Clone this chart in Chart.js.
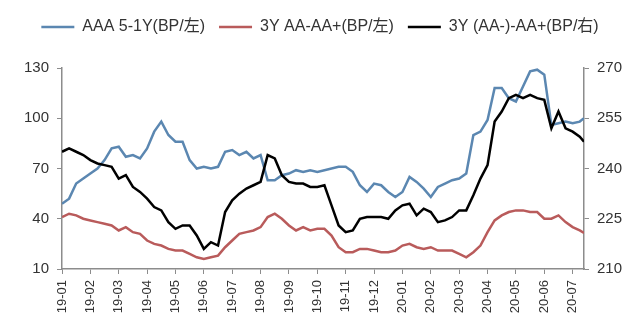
<!DOCTYPE html>
<html>
<head>
<meta charset="utf-8">
<script src="https://cdn.jsdelivr.net/npm/chart.js@4/dist/chart.umd.min.js"></script>
<style>
    html, body { margin: 0; padding: 0; background: #fff; }
    #wrap { width: 640px; height: 335px; }
</style>
</head>
<body>
<div id="wrap"><canvas id="spreadChart"></canvas></div>
<script>
// Month labels on the x axis, one per month start
const monthLabels = ['19-01', '19-02', '19-03', '19-04', '19-05', '19-06', '19-07', '19-08', '19-09', '19-10',
    '19-11', '19-12', '20-01', '20-02', '20-03', '20-04', '20-05', '20-06', '20-07'];

// Sample positions in months since 2019-01 (quarter-month steps)
const samplePos = [0, 0.25, 0.5, 0.75, 1, 1.25, 1.5, 1.75, 2, 2.25, 2.5, 2.75, 3, 3.25, 3.5, 3.75,
    4, 4.25, 4.5, 4.75, 5, 5.25, 5.5, 5.75, 6, 6.25, 6.5, 6.75, 7, 7.25, 7.5, 7.75,
    8, 8.25, 8.5, 8.75, 9, 9.25, 9.5, 9.75, 10, 10.25, 10.5, 10.75, 11, 11.25, 11.5, 11.75,
    12, 12.25, 12.5, 12.75, 13, 13.25, 13.5, 13.75, 14, 14.25, 14.5, 14.75, 15, 15.25, 15.5, 15.75,
    16, 16.25, 16.5, 16.75, 17, 17.25, 17.5, 17.75, 18, 18.25, 18.4];

// AAA 5-1Y term spread (BP, left axis)
const aaaSpread = [49, 52, 61, 64, 67, 70, 75, 82, 83, 77, 78, 76, 82, 92, 98, 90,
    86, 86, 75, 70, 71, 70, 71, 80, 81, 78, 80, 76, 78, 63, 63, 66,
    67, 69, 68, 69, 68, 69, 70, 71, 71, 68, 60, 56, 61, 60, 56, 53,
    56, 65, 62, 58, 53, 59, 61, 63, 64, 67, 90, 92, 99, 118, 118, 112,
    110, 119, 128, 129, 126, 96, 97, 98, 97, 98, 100];

// 3Y AA vs AA+ spread (BP, left axis)
const aaSpread = [41, 43, 42, 40, 39, 38, 37, 36, 33, 35, 32, 31, 27, 25, 24, 22,
    21, 21, 19, 17, 16, 17, 18, 23, 27, 31, 32, 33, 35, 41, 43, 40,
    36, 33, 35, 33, 34, 34, 30, 23, 20, 20, 22, 22, 21, 20, 20, 21,
    24, 25, 23, 22, 23, 21, 21, 21, 19, 17, 20, 24, 32, 39, 42, 44,
    45, 45, 44, 44, 40, 40, 42, 38, 35, 33, 31.5];

// 3Y (AA-) vs AA+ spread (BP, right axis)
const aaMinusSpread = [245, 246, 245, 244, 242.5, 241.5, 241, 240.5, 237, 238, 234.5, 233, 231, 228.5, 227.5, 224,
    222, 223, 223, 220, 216, 218, 217, 227, 230.5, 232.5, 234, 235, 236, 244, 243, 238,
    236, 235.5, 235.5, 234.5, 234.5, 235, 229, 223, 221, 221.5, 225, 225.5, 225.5, 225.5, 225, 227.5,
    229, 229.5, 226, 228, 227, 224, 224.5, 225.5, 227.5, 227.5, 232, 237, 241, 254, 257, 261,
    262, 261, 262, 261, 260.5, 252, 257, 252, 251, 249.5, 248];

const toPoints = values => values.map((v, i) => ({ x: samplePos[i], y: v }));

const baseFont = { family: '"Liberation Sans", "Noto Sans CJK SC", sans-serif' };
const axisColor = '#8c8c8c';
const textColor = '#333333';

new Chart(document.getElementById('spreadChart'), {
    type: 'line',
    data: {
        datasets: [
            {
                label: 'AAA 5-1Y(BP/左)',
                data: toPoints(aaaSpread),
                borderColor: '#5b87b1',
                backgroundColor: '#5b87b1',
                borderWidth: 2.5,
                yAxisID: 'y',
                order: 2
            },
            {
                label: '3Y AA-AA+(BP/左)',
                data: toPoints(aaSpread),
                borderColor: '#b95b5b',
                backgroundColor: '#b95b5b',
                borderWidth: 2.5,
                yAxisID: 'y',
                order: 1
            },
            {
                label: '3Y (AA-)-AA+(BP/右)',
                data: toPoints(aaMinusSpread),
                borderColor: '#000000',
                backgroundColor: '#000000',
                borderWidth: 2.5,
                yAxisID: 'y2',
                order: 0
            }
        ]
    },
    options: {
        responsive: true,
        maintainAspectRatio: false,
        animation: false,
        layout: { padding: { top: 5, right: 0, bottom: 0, left: 0 } },
        elements: {
            point: { radius: 0 },
            line: { tension: 0 }
        },
        plugins: {
            tooltip: { enabled: false },
            legend: {
                position: 'top',
                labels: {
                    usePointStyle: true,
                    pointStyle: 'line',
                    pointStyleWidth: 33,
                    boxHeight: 10,
                    padding: 14,
                    color: textColor,
                    font: { ...baseFont, size: 16 },
                    // keep legend in dataset order, not drawing order
                    sort: (a, b) => a.datasetIndex - b.datasetIndex
                }
            }
        },
        scales: {
            x: {
                type: 'linear',
                min: 0,
                max: 18.4,
                grid: {
                    drawOnChartArea: false,
                    drawTicks: true,
                    tickLength: 5,
                    color: axisColor
                },
                border: { color: axisColor, width: 1.5 },
                ticks: {
                    stepSize: 1,
                    includeBounds: false,
                    autoSkip: false,
                    maxRotation: 90,
                    minRotation: 90,
                    padding: 6,
                    color: textColor,
                    font: { ...baseFont, size: 13 },
                    callback: value => monthLabels[value]
                },
                afterFit: scale => { scale.height = 66; }
            },
            y: {
                position: 'left',
                min: 10,
                max: 130,
                grid: {
                    drawOnChartArea: false,
                    tickLength: 5,
                    color: axisColor
                },
                border: { color: axisColor, width: 1.5 },
                ticks: {
                    stepSize: 30,
                    padding: 8,
                    color: textColor,
                    font: { ...baseFont, size: 15 }
                },
                afterFit: scale => { scale.width = 62; }
            },
            y2: {
                position: 'right',
                min: 210,
                max: 270,
                grid: {
                    drawOnChartArea: false,
                    tickLength: 5,
                    color: axisColor
                },
                border: { color: axisColor, width: 1.5 },
                ticks: {
                    stepSize: 15,
                    padding: 8,
                    color: textColor,
                    font: { ...baseFont, size: 15 }
                },
                afterFit: scale => { scale.width = 56; }
            }
        }
    },
    plugins: [{
        id: 'legendGap',
        beforeInit(chart) {
            const fit = chart.legend.fit;
            chart.legend.fit = function () {
                fit.bind(chart.legend)();
                this.height += 23;
            };
        }
    }]
});
</script>
</body>
</html>
